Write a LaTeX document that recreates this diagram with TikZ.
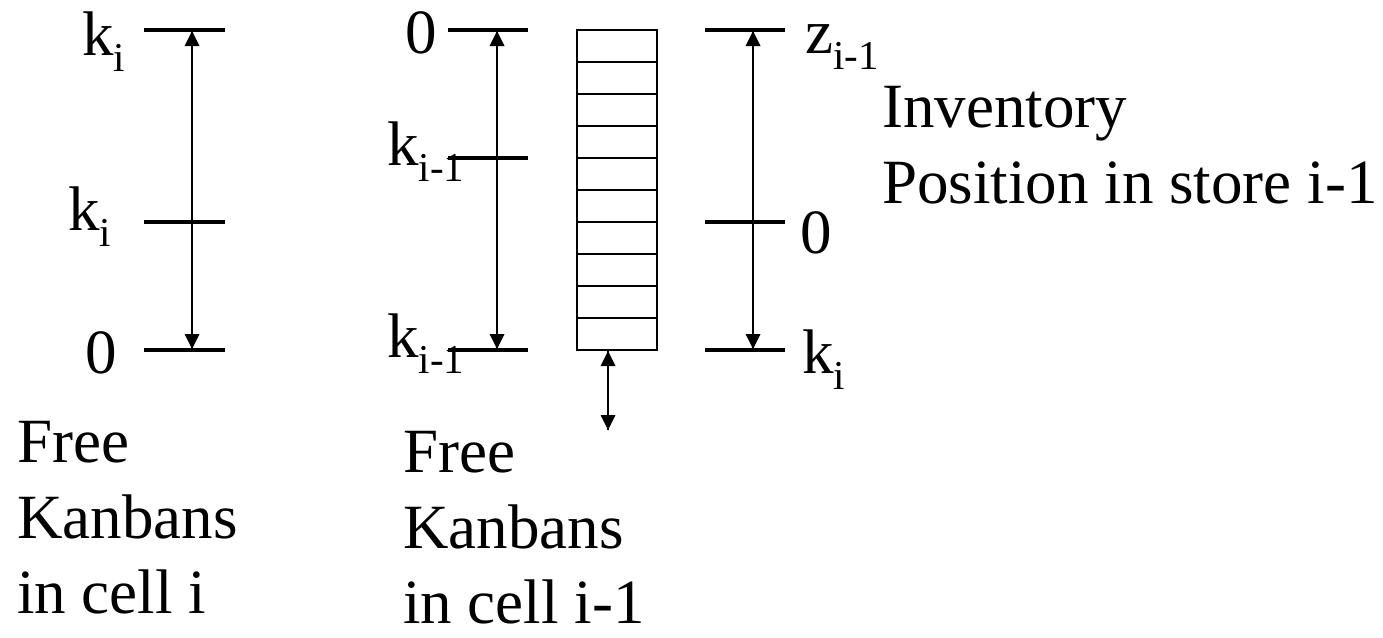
\documentclass[tikz,border=0pt]{standalone}
\usepackage{fontspec}
\setmainfont{Liberation Serif}
\newcommand{\sbs}[1]{\raisebox{-16pt}{\fontsize{41}{41}\selectfont #1}}
\begin{document}
\begin{tikzpicture}[x=1pt,y=-1pt,
  tick/.style={line width=3.2pt},
  cellline/.style={line width=2.6pt},
  shaft/.style={line width=2.2pt},
  head/.style={fill=black},
  lbl/.style={anchor=base west,inner sep=0pt,font=\fontsize{63}{75.5}\selectfont}]
\useasboundingbox (0,0) rectangle (1383,637);

% left group: free kanbans in cell i
\coordinate (a1) at (144,30);  \coordinate (a2) at (225,30);
\coordinate (b1) at (144,222); \coordinate (b2) at (225,222);
\coordinate (c1) at (144,350); \coordinate (c2) at (225,350);
\draw[tick] (a1) -- (a2);
\draw[tick] (b1) -- (b2);
\draw[tick] (c1) -- (c2);
\coordinate (lt) at (192,31); \coordinate (lb) at (192,349);
\draw[shaft] (lt) -- (lb);
\fill[head] (lt) -- ++(-7.5,15) -- ++(15,0) -- cycle;
\fill[head] (lb) -- ++(-7.5,-15) -- ++(15,0) -- cycle;
\node[lbl] (lk1) at (82,55) {k\sbs{i}};
\node[lbl] (lk2) at (68,230) {k\sbs{i}};
\node[lbl] (l0) at (85,373) {0};
\node[lbl] (lf1) at (17,462) {Free};
\node[lbl] (lf2) at (17,538) {Kanbans};
\node[lbl] (lf3) at (17,613) {in cell i};

% middle group: free kanbans in cell i-1
\coordinate (d1) at (448,30);  \coordinate (d2) at (528,30);
\coordinate (e1) at (448,158); \coordinate (e2) at (528,158);
\coordinate (f1) at (448,350); \coordinate (f2) at (528,350);
\draw[tick] (d1) -- (d2);
\draw[tick] (e1) -- (e2);
\draw[tick] (f1) -- (f2);
\coordinate (mt) at (497,31); \coordinate (mb) at (497,349);
\draw[shaft] (mt) -- (mb);
\fill[head] (mt) -- ++(-7.5,15) -- ++(15,0) -- cycle;
\fill[head] (mb) -- ++(-7.5,-15) -- ++(15,0) -- cycle;
\node[lbl] (m0) at (405,53) {0};
\node[lbl] (mk1) at (387,165) {k\sbs{i-1}};
\node[lbl] (mk2) at (387,357) {k\sbs{i-1}};
\node[lbl] (mf1) at (403,472) {Free};
\node[lbl] (mf2) at (403,548) {Kanbans};
\node[lbl] (mf3) at (403,623) {in cell i-1};

% store
\node[draw,cellline,inner sep=0pt,minimum width=80pt,minimum height=320pt] (store) at (617,190) {};
\foreach \i in {1,...,9} {
  \draw[cellline] (577,30+32*\i) -- (657,30+32*\i);
}
\coordinate (st) at (608,351); \coordinate (sb) at (608,430);
\draw[shaft] (st) -- (sb);
\fill[head] (st) -- ++(-7.5,15) -- ++(15,0) -- cycle;
\fill[head] (sb) -- ++(-7.5,-15) -- ++(15,0) -- cycle;

% right group: inventory position
\coordinate (g1) at (705,30);  \coordinate (g2) at (785,30);
\coordinate (h1) at (705,222); \coordinate (h2) at (785,222);
\coordinate (j1) at (705,350); \coordinate (j2) at (785,350);
\draw[tick] (g1) -- (g2);
\draw[tick] (h1) -- (h2);
\draw[tick] (j1) -- (j2);
\coordinate (rt) at (753,31); \coordinate (rb) at (753,349);
\draw[shaft] (rt) -- (rb);
\fill[head] (rt) -- ++(-7.5,15) -- ++(15,0) -- cycle;
\fill[head] (rb) -- ++(-7.5,-15) -- ++(15,0) -- cycle;
\node[lbl] (rz) at (805,53) {z\sbs{i-1}};
\node[lbl] (r0) at (800,253) {0};
\node[lbl] (rk) at (802,373) {k\sbs{i}};
\node[lbl] (ri1) at (882,127) {Inventory};
\node[lbl] (ri2) at (882,203) {Position in store i-1};
\end{tikzpicture}
\end{document}
